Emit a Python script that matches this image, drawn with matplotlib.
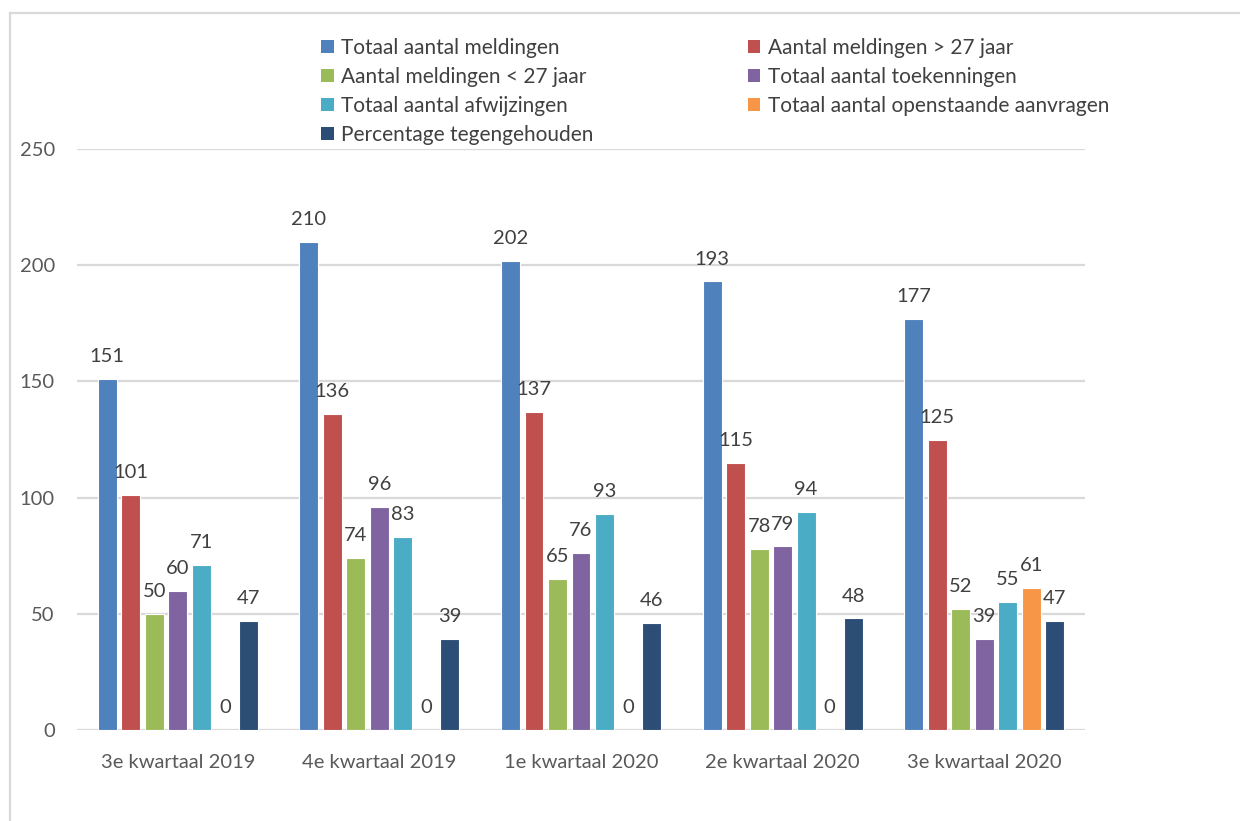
import matplotlib
matplotlib.use("Agg")
import matplotlib.pyplot as plt
import numpy as np
from matplotlib.lines import Line2D
from matplotlib.patches import Patch

categories = ["3e kwartaal 2019", "4e kwartaal 2019", "1e kwartaal 2020",
              "2e kwartaal 2020", "3e kwartaal 2020"]
series_names = ["Totaal aantal meldingen", "Aantal meldingen > 27 jaar",
                "Aantal meldingen < 27 jaar", "Totaal aantal toekenningen",
                "Totaal aantal afwijzingen", "Totaal aantal openstaande aanvragen",
                "Percentage tegengehouden"]
totaal_meldingen = [151, 210, 202, 193, 177]
meldingen_ouder_27 = [101, 136, 137, 115, 125]
meldingen_jonger_27 = [50, 74, 65, 78, 52]
toekenningen = [60, 96, 76, 79, 39]
afwijzingen = [71, 83, 93, 94, 55]
openstaande = [0, 0, 0, 0, 61]
percentage_tegengehouden = [47, 39, 46, 48, 47]
yticks = [0, 50, 100, 150, 200, 250]

series = [totaal_meldingen, meldingen_ouder_27, meldingen_jonger_27,
          toekenningen, afwijzingen, openstaande, percentage_tegengehouden]
colors = ["#4F81BD", "#C0504D", "#9BBB59", "#8064A2", "#4BACC6", "#F79646", "#2C4D75"]

plt.rcParams['font.family'] = ['Lato', 'DejaVu Sans']

fig = plt.figure(figsize=(12.4, 8.21), dpi=100)
ax = fig.add_axes([77/1240, 1-730/821, (1085-77)/1240, (730-149)/821])

x = np.arange(len(categories))
step = 0.1166
width = 0.094
n = len(series)
handles = []
for i, (vals, c, name) in enumerate(zip(series, colors, series_names)):
    pos = x + (i - (n-1)/2) * step
    ax.bar(pos, vals, width=width, color=c, edgecolor="white", linewidth=0.8,
           zorder=3, label=name)
    for p, v in zip(pos, vals):
        ax.annotate(str(v), (p, v), xytext=(0, 10), textcoords="offset points",
                    ha="center", va="bottom", fontsize=14.5, color="#404040")
    handles.append(Patch(facecolor=c, edgecolor="none"))

ax.set_xlim(-0.5, len(categories)-0.5)
ax.set_ylim(0, 250)
ax.set_yticks(yticks)
ax.set_xticks(x)
ax.set_xticklabels(categories)
ax.tick_params(axis="both", length=0, labelsize=14.5, colors="#595959")
ax.tick_params(axis="y", pad=16)
ax.tick_params(axis="x", pad=17)
ax.yaxis.grid(True, color="#D9D9D9", linewidth=1.6, zorder=0)
ax.set_axisbelow(True)
for s in ax.spines.values():
    s.set_visible(False)

order = [0, 2, 4, 6, 1, 3, 5]
leg = fig.legend([handles[k] for k in order], [series_names[k] for k in order],
                 ncol=2, loc="upper left", bbox_to_anchor=(321/1240, 1-38/821),
                 frameon=False, fontsize=15, handlelength=0.6, handleheight=0.6,
                 handletextpad=0.35, columnspacing=7.42, labelspacing=0.43,
                 borderaxespad=0, borderpad=0)
for t in leg.get_texts():
    t.set_color("#404040")

# outer chart border (top and left)
fig.add_artist(Line2D([10/1240, 1], [1-13/821, 1-13/821], color="#D9D9D9", linewidth=1.6))
fig.add_artist(Line2D([10/1240, 10/1240], [0, 1-13/821], color="#D9D9D9", linewidth=1.6))

fig.savefig("out.png", dpi=100, facecolor="white")
